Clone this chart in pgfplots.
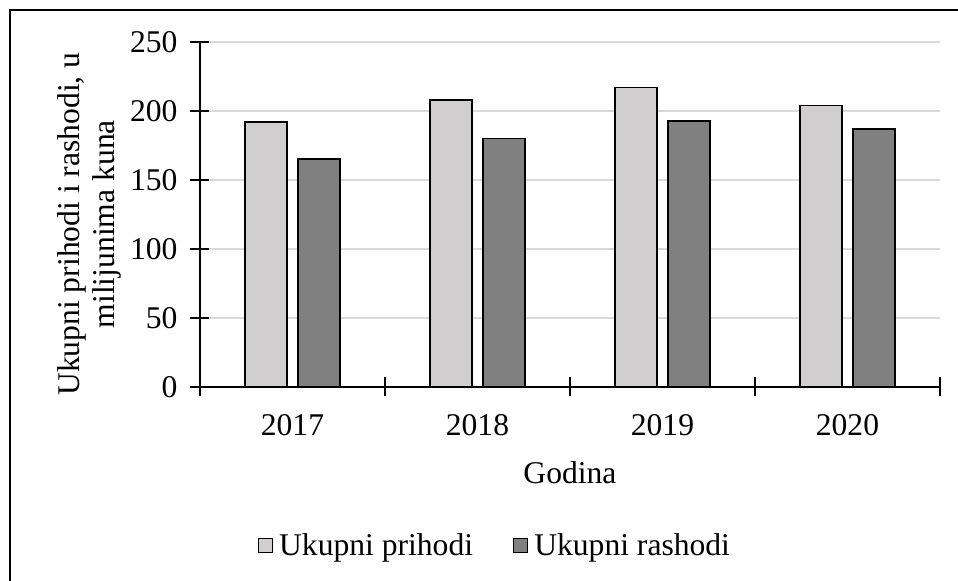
\documentclass[border=0pt]{standalone}
\usepackage{pgfplots}
\pgfplotsset{compat=1.18}
\usepackage{fontspec}
\setmainfont{Liberation Serif}
\definecolor{lightbar}{HTML}{D0CECE}
\definecolor{darkbar}{HTML}{808080}
\definecolor{gridgray}{HTML}{D9D9D9}
\pgfplotsset{sqlegend/.style={legend image code/.code={\draw[##1, line width=0.6pt] (0pt,-3.3pt) rectangle (7pt,3.7pt);}}}
\begin{document}
\begin{tikzpicture}[font=\fontsize{15.8}{17.5}\selectfont]
\path[use as bounding box] (-100pt,-97pt) rectangle (379pt,193.5pt);
\draw[line width=0.7pt] (-95pt,-100pt) -- (-95pt,188.5pt) -- (385pt,188.5pt);
\begin{axis}[
  at={(0pt,0pt)}, anchor=south west,
  width=370pt, height=172.5pt, scale only axis,
  ybar=5.5pt, bar width=21pt,
  xmin=-0.5, xmax=3.5, ymin=0, ymax=250,
  ytick={0,50,100,150,200,250},
  xtick={-0.5,0.5,1.5,2.5,3.5}, xticklabels={},
  extra x ticks={0,1,2,3},
  extra x tick labels={2017,2018,2019,2020},
  extra x tick style={major tick length=0pt, xticklabel style={yshift=-10pt}},
  axis x line*=bottom, axis y line*=left,
  tick align=center, major tick length=9.5pt,
  tick style={black, line width=0.6pt},
  axis line style={black, line width=0.6pt},
  ymajorgrids, grid style={gridgray, line width=0.75pt},
  /pgf/number format/assume math mode=true,
  yticklabel style={xshift=-3pt},
  xlabel={Godina},
  xlabel style={at={(axis description cs:0.5,-0.249)}, anchor=center},
  ylabel={Ukupni prihodi i rashodi, u\\milijunima kuna},
  ylabel style={align=center, at={(axis description cs:-0.150,0.472)}, anchor=center},
  legend style={at={(axis description cs:0.4,-0.461)}, anchor=center, draw=none,
    legend columns=2,
    /tikz/every odd column/.append style={column sep=1pt},
    /tikz/every even column/.append style={column sep=18pt}},
]
\addplot[fill=lightbar, draw=black, line width=0.9pt, sqlegend]
  coordinates {(0,192) (1,208) (2,217) (3,204)};
\addplot[fill=darkbar, draw=black, line width=0.9pt, sqlegend]
  coordinates {(0,165) (1,180) (2,193) (3,187)};
\legend{Ukupni prihodi, Ukupni rashodi}
\end{axis}
\end{tikzpicture}
\end{document}
